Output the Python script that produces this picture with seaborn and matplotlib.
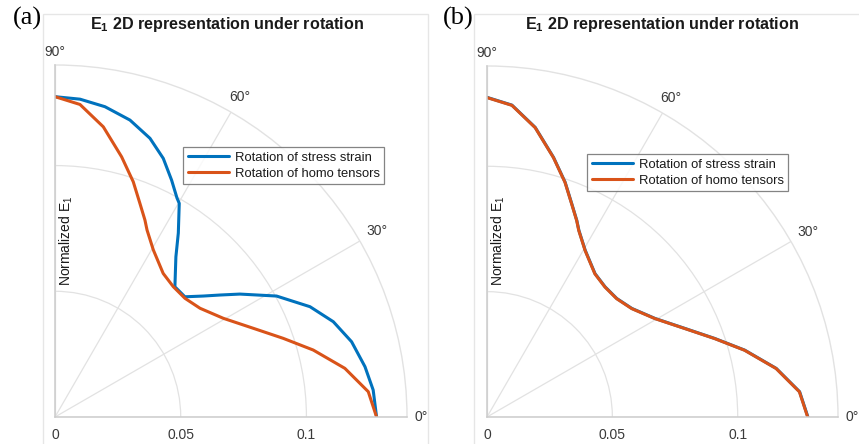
import numpy as np
import pandas as pd
import matplotlib
matplotlib.use("Agg")
import matplotlib.pyplot as plt
from matplotlib.patches import Rectangle
import seaborn as sns

# ---------------- data (angles in degrees, normalized E1) ----------------
theta_a_stress = [90, 85.5, 80.85, 75.83, 71.18, 67.28, 63.79, 60.88, 59.82, 56.17,
                  52.95, 47.36, 42.78, 39.21, 36.48, 33.62, 28.63, 23.39, 18.9,
                  14.24, 9.22, 4.85, 0]
r_a_stress = [0.1274, 0.1268, 0.1250, 0.1218, 0.1171, 0.1115, 0.1050, 0.0997, 0.0983,
              0.0881, 0.0798, 0.0704, 0.0704, 0.0761, 0.0816, 0.0883, 0.1004, 0.1105,
              0.1170, 0.1217, 0.1249, 0.1270, 0.1279]

theta_homo = [90, 85.43, 80.55, 75.63, 71.6, 68.31, 65.45, 63.8, 59.52, 53.0, 47.77, 42.4,
              36.85, 30.39, 24.1, 19.02, 14.54, 9.53, 4.62, 0]
r_homo = [0.1274, 0.1247, 0.1170, 0.1068, 0.0986, 0.0914, 0.0861, 0.0829, 0.0771, 0.0715,
          0.0700, 0.0700, 0.0721, 0.0776, 0.0864, 0.0960, 0.1061, 0.1169, 0.1250, 0.1279]

theta_b_stress = [90, 85.43, 80.55, 75.63, 71.6, 68.31, 65.45, 63.8, 59.52, 53.0, 47.77, 42.4,
                  36.85, 30.39, 24.1, 19.02, 14.54, 9.53, 4.62, 0]
r_b_stress = [0.1275, 0.1248, 0.1171, 0.1069, 0.0987, 0.0915, 0.0862, 0.0830, 0.0772, 0.0716,
              0.0701, 0.0701, 0.0722, 0.0777, 0.0865, 0.0961, 0.1062, 0.1170, 0.1251, 0.1280]

theta_ticks = [0, 30, 60, 90]
theta_labels = ["0°", "30°", "60°", "90°"]
r_ticks = [0, 0.05, 0.1]
r_labels = ["0", "0.05", "0.1"]
r_max = 0.14

series_names = ["Rotation of stress strain", "Rotation of homo tensors"]
panel_labels = ["(a)", "(b)"]
title_text = r"E$_\mathbf{1}$ 2D representation under rotation"
ylabel_text = r"Normalized E$_1$"

# ---------------- style ----------------
sns.set_style("white")
plt.rcParams["font.family"] = ["Liberation Sans", "DejaVu Sans"]
plt.rcParams["mathtext.fontset"] = "custom"
plt.rcParams["mathtext.rm"] = "Liberation Sans"
plt.rcParams["mathtext.bf"] = "Liberation Sans:bold"
plt.rcParams["mathtext.it"] = "Liberation Sans:italic"

BLUE = "#0072BD"
ORANGE = "#D95319"
GRID = "#e2e2e2"
TXT = "#3a3a3a"

W, H = 859, 444
fig = plt.figure(figsize=(W / 100, H / 100), dpi=100)
fig.patch.set_facecolor("white")


def fx(px):
    return px / W


def fy(py):
    return 1 - py / H


# panel frames
fig.add_artist(Rectangle((fx(43), -0.02), fx(428 - 43), (H - 14) / H + 0.02,
                         transform=fig.transFigure, fill=False, edgecolor="#e6e6e6", lw=1))
fig.add_artist(Rectangle((fx(474), -0.02), fx(900 - 474), (H - 14) / H + 0.02,
                         transform=fig.transFigure, fill=False, edgecolor="#e6e6e6", lw=1))

panels = [
    dict(ox=55, radius=352, stress=(theta_a_stress, r_a_stress), homo=(theta_homo, r_homo),
         title_x=227, leg=(183, 147), ylab_x=66, lab_x=27),
    dict(ox=487, radius=351, stress=(theta_b_stress, r_b_stress), homo=(theta_homo, r_homo),
         title_x=662, leg=(587, 154), ylab_x=498, lab_x=458),
]

oy = 417
for i, p in enumerate(panels):
    rad = p["radius"]
    ax = fig.add_axes([fx(p["ox"]), fy(oy), fx(rad), rad / H], projection="polar")
    ax.set_thetamin(0)
    ax.set_thetamax(90)

    df_s = pd.DataFrame({"theta": np.deg2rad(p["stress"][0]), "r": p["stress"][1]})
    df_h = pd.DataFrame({"theta": np.deg2rad(p["homo"][0]), "r": p["homo"][1]})
    sns.lineplot(data=df_s, x="theta", y="r", ax=ax, sort=False, color=BLUE,
                 linewidth=2.2, label=series_names[0])
    sns.lineplot(data=df_h, x="theta", y="r", ax=ax, sort=False, color=ORANGE,
                 linewidth=2.2, label=series_names[1])

    ax.set_rlim(0, r_max)
    ax.set_yticks(r_ticks)
    ax.set_yticklabels([])
    ax.set_xticks(np.deg2rad(theta_ticks))
    ax.set_xticklabels([])
    ax.set_xlabel("")
    ax.set_ylabel("")
    ax.tick_params(length=0)
    ax.grid(True, color=GRID, lw=0.9)
    ax.spines["polar"].set_color(GRID)
    ax.spines["polar"].set_linewidth(1.0)
    for s in ("start", "end"):
        ax.spines[s].set_color("#cccccc")
        ax.spines[s].set_linewidth(1.1)
    ax.set_facecolor("none")

    # theta labels
    lab_r = {0: 0.1455, 30: 0.1477, 60: 0.147, 90: 0.1451}
    for t, lab in zip(theta_ticks, theta_labels):
        ax.text(np.deg2rad(t), lab_r[t], lab, ha="center", va="center",
                fontsize=10, color=TXT, clip_on=False)
    # radial labels
    for rv, lab in zip(r_ticks, r_labels):
        ax.annotate(lab, xy=(0, rv), xytext=(0, -8), textcoords="offset points",
                    ha="center", va="top", fontsize=10, color=TXT, annotation_clip=False)

    leg = ax.legend(loc="upper left", bbox_to_anchor=(fx(p["leg"][0]), fy(p["leg"][1])),
                    bbox_transform=fig.transFigure, fontsize=9.4, frameon=True,
                    fancybox=False, edgecolor="#666666", handlelength=3.2,
                    handletextpad=0.4, borderpad=0.35, labelspacing=0.28,
                    borderaxespad=0)
    leg.get_frame().set_linewidth(0.9)
    for txt in leg.get_texts():
        txt.set_color("#1a1a1a")

    fig.text(fx(p["title_x"]), fy(24), title_text, ha="center", va="center",
             fontsize=11.6, fontweight="bold", color="#1a1a1a")
    fig.text(fx(p["ylab_x"]), fy(241), ylabel_text, ha="center", va="center",
             rotation=90, fontsize=10, color="#1a1a1a")
    fig.text(fx(p["lab_x"]), fy(18), panel_labels[i], ha="center", va="center",
             fontsize=19, family="Liberation Serif", color="black")

fig.savefig("out.png", dpi=100)
